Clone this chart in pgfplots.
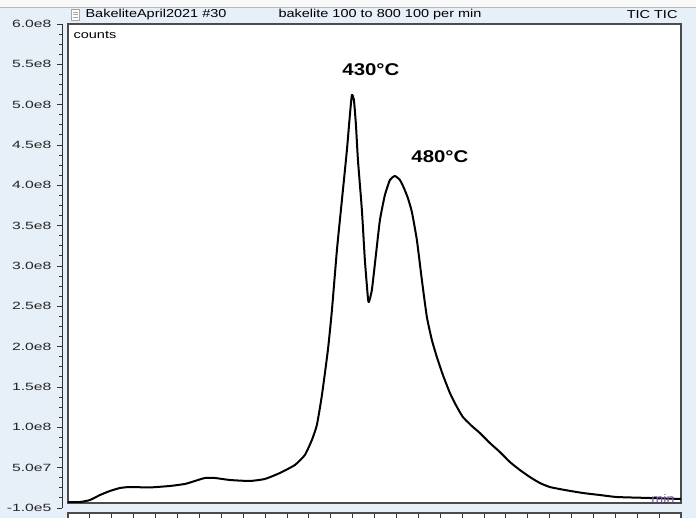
\documentclass[border=0pt]{standalone}
\usepackage{pgfplots}
\pgfplotsset{compat=1.18}
\usepackage{fontspec}
\setmainfont{Liberation Sans}

\definecolor{panelbg}{RGB}{231,239,249}
\definecolor{framegray}{RGB}{75,75,75}
\definecolor{unitpurple}{RGB}{120,90,170}

% the source screenshot is stretched sideways, so is the text
\newcommand{\wl}[1]{\scalebox{1.5}[1]{#1}}
\newcommand{\wt}[1]{\scalebox{1.26}[1]{#1}}

% intensity in units of 1e8 counts, time in min
\pgfplotstableread{
t      c
0.000  0.074
0.137  0.074
0.251  0.099
0.365  0.161
0.479  0.211
0.594  0.248
0.708  0.260
0.936  0.255
1.164  0.273
1.336  0.298
1.450  0.335
1.564  0.372
1.678  0.372
1.849  0.347
2.078  0.335
2.249  0.360
2.420  0.434
2.591  0.533
2.705  0.657
2.785  0.843
2.842  1.029
2.900  1.401
2.968  1.959
3.014  2.454
3.071  3.198
3.128  3.818
3.185  4.438
3.219  4.872
3.242  5.120
3.265  5.058
3.288  4.750
3.311  4.314
3.356  3.694
3.390  3.074
3.425  2.603
3.436  2.553
3.470  2.702
3.516  3.136
3.562  3.570
3.619  3.880
3.676  4.066
3.733  4.116
3.790  4.066
3.836  3.967
3.881  3.843
3.927  3.669
3.984  3.322
4.041  2.826
4.098  2.368
4.155  2.083
4.212  1.872
4.281  1.649
4.361  1.426
4.429  1.277
4.509  1.128
4.612  1.016
4.703  0.930
4.817  0.806
4.932  0.694
5.046  0.570
5.160  0.471
5.274  0.384
5.388  0.310
5.502  0.260
5.674  0.223
5.879  0.186
6.073  0.161
6.267  0.136
6.644  0.124
6.998  0.112
}\tic

\begin{document}
\begin{tikzpicture}[x=1pt,y=1pt]
\fill[panelbg] (0,0) rectangle (696,518);
\fill[white!95!gray] (0,511) rectangle (696,518);
\draw[gray!55, line width=0.8pt] (0,510.6) -- (696,510.6);

% y ruler
\begin{axis}[at={(62pt,10pt)}, anchor=south west, scale only axis,
    width=1pt, height=484pt, xmin=0, xmax=1, ymin=-0.001, ymax=6,
    axis y line*=left, axis x line=none,
    axis line style={black!80, line width=0.9pt, -},
    tick align=outside, major tick length=5pt, minor tick length=3pt,
    tick style={black!80, line width=0.8pt},
    ytick={-0.001,0.5,1,1.5,2,2.5,3,3.5,4,4.5,5,5.5,6},
    yticklabels={\wl{-1.0e5},\wl{5.0e7},\wl{1.0e8},\wl{1.5e8},\wl{2.0e8},\wl{2.5e8},\wl{3.0e8},\wl{3.5e8},\wl{4.0e8},\wl{4.5e8},\wl{5.0e8},\wl{5.5e8},\wl{6.0e8}},
    minor ytick={0.125,0.25,0.375,0.625,0.75,0.875,1.125,1.25,1.375,1.625,1.75,1.875,2.125,2.25,2.375,2.625,2.75,2.875,3.125,3.25,3.375,3.625,3.75,3.875,4.125,4.25,4.375,4.625,4.75,4.875,5.125,5.25,5.375,5.625,5.75,5.875},
    yticklabel style={font=\fontsize{10.5}{12}\selectfont, text=black!85, xshift=-2pt}]
\end{axis}

% plot area
\begin{axis}[at={(68pt,15pt)}, anchor=south west, scale only axis,
    width=613pt, height=479pt, xmin=0, xmax=7, ymin=0.062, ymax=6,
    xtick=\empty, ytick=\empty, axis background/.style={fill=white},
    axis line style={framegray, line width=1.4pt}]
\addplot[black, line width=2pt, line join=round, smooth, tension=0.3] table[x=t, y=c] {\tic};
\node[font=\fontsize{17}{20}\selectfont\bfseries] at (axis cs:3.459,5.43) {\scalebox{1.2}[1]{430°C}};
\node[font=\fontsize{17}{20}\selectfont\bfseries] at (axis cs:4.247,4.351) {\scalebox{1.2}[1]{480°C}};
\end{axis}

% time strip below (labels cut off)
\begin{axis}[at={(68pt,-20pt)}, anchor=south west, scale only axis,
    width=613pt, height=25pt, xmin=0, xmax=7, ymin=0, ymax=1,
    xtick={0,1,...,7}, minor x tick num=3, xticklabels={},
    xtick pos=upper, tick align=inside, ytick=\empty,
    major tick length=6pt, minor tick length=5pt,
    tick style={black!80, line width=0.8pt},
    axis background/.style={fill=white},
    axis line style={framegray, line width=1.2pt}]
\end{axis}

\pgfresetboundingbox
\useasboundingbox (0,0) rectangle (696,518);

\draw[gray!70, fill=white] (71,498) rectangle (79,509);
\draw[gray!70] (72.5,506) -- (77.5,506) (72.5,503.5) -- (77.5,503.5) (72.5,501) -- (77.5,501);
\node[anchor=west, font=\fontsize{11.5}{13}\selectfont] at (82,503) {\wt{BakeliteApril2021 \#30}};
\node[font=\fontsize{11.5}{13}\selectfont] at (380,503) {\wt{bakelite 100 to 800 100 per min}};
\node[anchor=east, font=\fontsize{11.5}{13}\selectfont] at (681,503) {\wt{TIC TIC}};
\node[anchor=west, font=\fontsize{11}{13}\selectfont] at (70,483) {\scalebox{1.32}[1]{counts}};
\node[anchor=east, font=\fontsize{11}{13}\selectfont, text=unitpurple] at (678,19) {\scalebox{1.3}[1]{min}};
\end{tikzpicture}
\end{document}
